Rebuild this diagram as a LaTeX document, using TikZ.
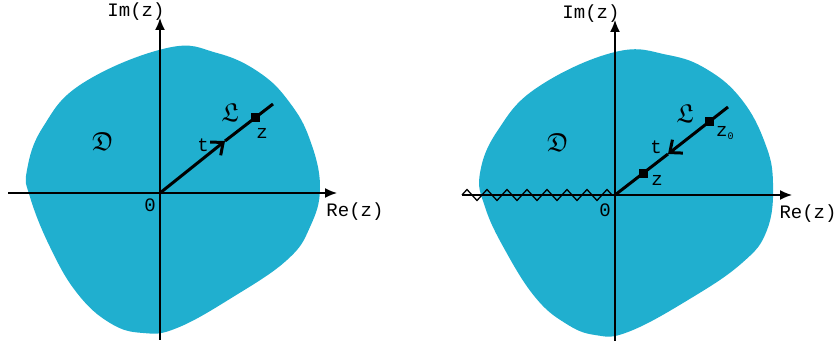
\documentclass[tikz,border=0pt]{standalone}
\usepackage{fontspec}
\usepackage{amssymb}
\setmonofont{Liberation Mono}
\usetikzlibrary{arrows.meta,decorations.pathmorphing}
\definecolor{domaincol}{RGB}{32,175,207}
\newcommand{\goth}[1]{\scalebox{2.6}{$\mathfrak{#1}$}}
\tikzset{
  axis/.style={line width=1.5pt,-{Latex[length=12pt,width=10pt]}},
  ray/.style={line width=3pt},
  zdot/.style={fill=black,minimum size=9pt,inner sep=0pt},
  lbl/.style={font=\ttfamily\fontsize{19}{22}\selectfont,inner sep=0pt},
  gothic/.style={inner sep=0pt},
}
\begin{document}
\begin{tikzpicture}[x=1pt,y=-1pt]
    \useasboundingbox (0,0) rectangle (839,347);

    % Left picture: the domain
    \fill[domaincol] plot[smooth cycle,tension=0.7] coordinates {(167,48) (217,53) (260,73) (290,103) (310,140) (320,187) (310,227) (287,260) (233,297) (177,328) (143,333) (110,323) (77,293) (50,247) (30,197) (27,170) (43,127) (83,83)};

    % axes
    \coordinate (O1) at (160,193);
    \coordinate (xl1) at (8,193);
    \coordinate (xr1) at (337,193);
    \coordinate (yb1) at (160,340);
    \coordinate (yt1) at (160,18);
    \draw[axis] (xl1) -- (xr1);
    \draw[axis] (yb1) -- (yt1);
    \node[lbl] (im1) at (136,12) {Im(z)};
    \node[lbl] (re1) at (355,212) {Re(z)};
    \node[lbl] (zero1) at (150,205) {0};

    % the ray from 0 to z
    \coordinate (end1) at (273,104);
    \coordinate (mid1) at (225,141);
    \node[zdot] (z1) at (255,118) {};
    \draw[ray,-{Straight Barb[length=10pt,width=17pt]}] (O1) -- (mid1);
    \draw[ray] (mid1) -- (end1);
    \node[lbl] (zl1) at (262,133) {z};
    \node[lbl] (t1) at (203,145) {t};
    \node[gothic] (L1) at (230,113) {\goth{L}};
    \node[gothic] (D1) at (103,142) {\goth{D}};

    % Right picture: the domain with the cut
    \fill[domaincol] plot[smooth cycle,tension=0.7] coordinates {(615,52) (668,55) (708,70) (742,100) (765,143) (773,183) (767,230) (742,263) (688,300) (628,332) (595,335) (565,323) (535,297) (505,250) (485,207) (480,173) (498,130) (538,87)};

    % axes
    \coordinate (O2) at (615,195);
    \coordinate (xl2) at (462,195);
    \coordinate (xr2) at (792,195);
    \coordinate (yb2) at (615,341);
    \coordinate (yt2) at (615,20);
    \draw[axis] (xl2) -- (xr2);
    \draw[axis] (yb2) -- (yt2);
    % the cut along the negative axis
    \draw[line width=1.3pt,decorate,decoration={zigzag,segment length=20pt,amplitude=5.5pt}] (xl2) -- (O2);
    \node[lbl] (im2) at (591,14) {Im(z)};
    \node[lbl] (re2) at (808,214) {Re(z)};
    \node[lbl] (zero2) at (605,210) {0};

    % the ray from z0 to z
    \coordinate (end2) at (728,107);
    \coordinate (mid2) at (668,154);
    \node[zdot] (z2) at (643,174) {};
    \node[zdot] (z0) at (709,122) {};
    \draw[ray] (O2) -- (mid2);
    \draw[ray,-{Straight Barb[length=10pt,width=17pt]}] (end2) -- (mid2);
    \node[lbl] (zl2) at (657,180) {z};
    \node[lbl,anchor=west] (z0l) at (716,133) {z\raisebox{-3pt}{\fontsize{10}{10}\selectfont 0}};
    \node[lbl] (t2) at (656,147) {t};
    \node[gothic] (L2) at (685,114) {\goth{L}};
    \node[gothic] (D2) at (558,143) {\goth{D}};
\end{tikzpicture}
\end{document}
